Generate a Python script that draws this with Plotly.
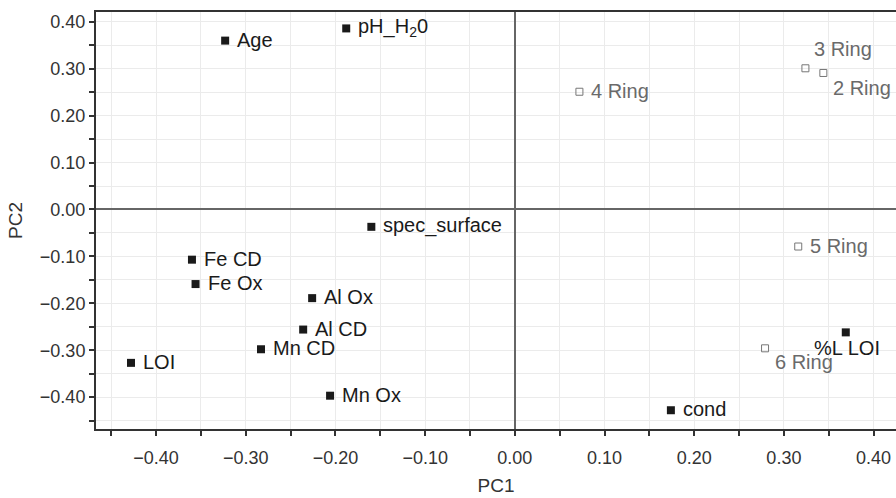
import plotly.graph_objects as go

# Variables (filled markers)
var_names = ["Age", "pH_H<sub>2</sub>0", "spec_surface", "Fe CD", "Fe Ox", "LOI",
             "Mn CD", "Al Ox", "Al CD", "Mn Ox", "cond", "%L LOI"]
var_pc1 = [-0.323, -0.188, -0.160, -0.360, -0.356, -0.428,
           -0.283, -0.226, -0.236, -0.206, 0.174, 0.369]
var_pc2 = [0.360, 0.386, -0.037, -0.107, -0.159, -0.327,
           -0.298, -0.189, -0.256, -0.397, -0.428, -0.262]

# Ring groups (open markers)
ring_names = ["4 Ring", "3 Ring", "2 Ring", "5 Ring", "6 Ring"]
ring_pc1 = [0.072, 0.324, 0.344, 0.316, 0.279]
ring_pc2 = [0.251, 0.301, 0.291, -0.079, -0.296]

# label placement (anchor, xshift, yshift) ; default = right of marker
placement = {
    "%L LOI": ("center", 1, -16),
    "3 Ring": ("left", 7, 19),
    "2 Ring": ("left", 8, -15),
    "6 Ring": ("left", 8, -14),
}
default_place = ("left", 10, 1)

FONT = "Liberation Sans, Arial, sans-serif"
DARK = "#1a1a1a"
GREY = "#6a6a6a"

fig = go.Figure()
fig.add_trace(go.Scatter(
    x=var_pc1, y=var_pc2, mode="markers",
    marker=dict(symbol="square", size=8, color=DARK),
    showlegend=False, cliponaxis=False))
fig.add_trace(go.Scatter(
    x=ring_pc1, y=ring_pc2, mode="markers",
    marker=dict(symbol="square-open", size=7, color="#777777", line=dict(width=1)),
    showlegend=False, cliponaxis=False))

annotations = []
for names, xs, ys, col in [(var_names, var_pc1, var_pc2, DARK),
                           (ring_names, ring_pc1, ring_pc2, GREY)]:
    for n, x, y in zip(names, xs, ys):
        anchor, dx, dy = placement.get(n, default_place)
        annotations.append(dict(
            x=x, y=y, xref="x", yref="y", text=n, showarrow=False,
            xanchor=anchor, yanchor="middle", xshift=dx, yshift=dy,
            font=dict(family=FONT, size=20, color=col)))

axis_common = dict(
    showgrid=True, gridcolor="#ebebeb", gridwidth=1,
    zeroline=True, zerolinecolor="#666666", zerolinewidth=2,
    showline=True, linecolor="#333333", linewidth=2,
    ticks="outside", ticklen=5, tickwidth=1.5, tickcolor="#333333",
    dtick=0.1, tick0=0, tickformat=".2f",
    minor=dict(dtick=0.05, ticks="outside", ticklen=5, tickcolor="#333333",
               showgrid=True, gridcolor="#ebebeb", gridwidth=1),
    tickfont=dict(family=FONT, size=18, color="#333333"),
)

fig.update_layout(
    width=896, height=498,
    margin=dict(l=96, r=0, t=12, b=69),
    paper_bgcolor="white", plot_bgcolor="white",
    annotations=annotations,
    xaxis=dict(range=[-0.467, 0.425], mirror=True, ticklabelstandoff=6,
               title=dict(text="PC1", font=dict(family=FONT, size=19, color="#333333"), standoff=12),
               **axis_common),
    yaxis=dict(range=[-0.468, 0.421], mirror=False, ticklabelstandoff=0,
               title=dict(text="PC2", font=dict(family=FONT, size=19, color="#333333"), standoff=12),
               **axis_common),
)

fig.write_html("out.html")
